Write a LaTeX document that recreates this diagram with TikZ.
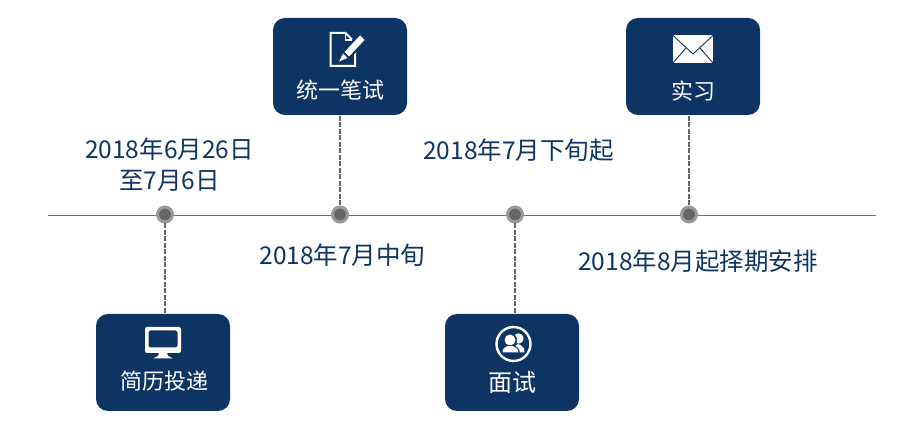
\documentclass[tikz,border=0pt]{standalone}
\usepackage{fontspec}
\setmainfont{Noto Sans CJK SC}
\definecolor{navy}{HTML}{0D3463}
\definecolor{dotout}{HTML}{9A9A9A}
\definecolor{dotin}{HTML}{666666}
\definecolor{axis}{HTML}{6E6E6E}
\tikzset{
  card/.style={fill=navy,rounded corners=12pt,minimum width=134pt,minimum height=97pt,inner sep=0pt,draw=none},
  cardtext/.style={text=white,font=\fontsize{22}{26}\selectfont,inner sep=0pt,anchor=center},
  cardtextbig/.style={cardtext,font=\fontsize{24}{28}\selectfont},
  datetext/.style={text=navy,font=\fontsize{24.5}{31}\selectfont,inner sep=0pt,align=center,anchor=center},
  dotnode/.style={circle,fill=dotin,draw=dotout,line width=3pt,minimum size=15pt,inner sep=0pt},
  link/.style={draw=dotin,line width=1.4pt,dash pattern=on 5pt off 1.5pt}
}
\begin{document}
\begin{tikzpicture}[x=1pt,y=-1pt]
\useasboundingbox (0,0) rectangle (900,427);
\coordinate (axisL) at (48,215.5);
\coordinate (axisR) at (876,215.5);
\draw[axis,line width=1pt] (axisL) -- (axisR);
\node[card] (boxA) at (163,362.5) {};
\node[card] (boxB) at (340,66.5) {};
\node[card] (boxC) at (512,362.5) {};
\node[card] (boxD) at (693,66.5) {};
\node[dotnode] (dotA) at (165,214.5) {};
\node[dotnode] (dotB) at (340,214.5) {};
\node[dotnode] (dotC) at (515,214.5) {};
\node[dotnode] (dotD) at (689,214.5) {};
\draw[link] (dotA.south) -- (dotA.south |- boxA.north);
\draw[link] (dotB.north) -- (dotB.north |- boxB.south);
\draw[link] (dotC.south) -- (dotC.south |- boxC.north);
\draw[link] (dotD.north) -- (dotD.north |- boxD.south);
\node[cardtext] (labA) at (164,381) {简历投递};
\node[cardtext] (labB) at (340,90) {统一笔试};
\node[cardtextbig] (labC) at (512.5,382) {面试};
\node[cardtext] (labD) at (693,91) {实习};
\node[datetext] (dateA) at (169.5,165) {2018年6月26日\\至7月6日};
\node[datetext] (dateB) at (342.5,255.5) {2018年7月中旬};
\node[datetext] (dateC) at (518.5,150) {2018年7月下旬起};
\node[datetext] (dateD) at (698,261) {2018年8月起择期安排};
% monitor icon
\fill[white,rounded corners=2pt,even odd rule] (145,327) rectangle (181,353) (148.5,330.5) rectangle (177.5,347.5);
\fill[white] (159,353) -- (167,353) -- (168,356) -- (173,358.5) -- (153,358.5) -- (158,356) -- cycle;
% pencil-note icon
\draw[white,line width=2pt] (355,47) -- (355,66) -- (330.5,66) -- (330.5,33) -- (345.5,33) -- (352,39.5);
\draw[white,line width=1.5pt] (345.5,33) -- (345.5,40) -- (352,40);
\fill[navy] (360,33) -- (367,40) -- (349,60) -- (337,64) -- (342,51) -- cycle;
\fill[white] (360,35.5) -- (364.5,40) -- (349,56.5) -- (344.5,52) -- cycle;
\fill[white] (343,53.5) -- (347.5,58) -- (339,61.5) -- cycle;
% people icon
\draw[white,line width=2.4pt] (513.5,344) circle (17pt);
\fill[white] (518.5,338.5) circle (5.2pt);
\fill[white] (513,350) .. controls (513,347) and (515,345.5) .. (518,344) -- (521,345.5) .. controls (524,347) and (524.5,349) .. (524.5,352.5) -- (515,352.5) -- cycle;
\fill[navy] (510,340) circle (7pt);
\fill[white] (510,340) circle (5.5pt);
\fill[navy] (501,353.5) .. controls (501,348) and (503.5,346.5) .. (507,345) -- (513,345) .. controls (516.5,346.5) and (520,348) .. (520,353.5) -- cycle;
\fill[white] (502.5,352.5) .. controls (502.5,348.5) and (504.5,347.5) .. (507.5,346) -- (512.5,346) .. controls (515.5,347.5) and (518.5,348.5) .. (518.5,352.5) -- cycle;
% envelope icon
\fill[white] (673,35) rectangle (713,63);
\draw[navy,line width=.9pt] (673,35.5) -- (693,54) -- (713,35.5);
\draw[navy,line width=.9pt] (673,63) -- (686,48);
\draw[navy,line width=.9pt] (713,63) -- (700,48);
\end{tikzpicture}
\end{document}
